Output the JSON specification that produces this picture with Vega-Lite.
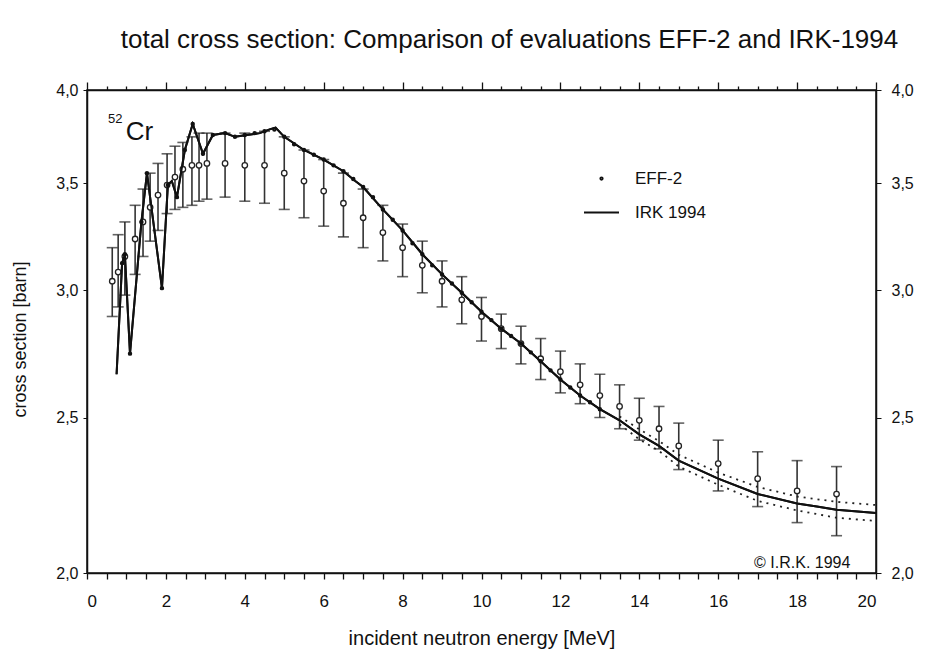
{
  "$schema": "https://vega.github.io/schema/vega-lite/v6.json",
  "autosize": {"type": "none"},
  "width": 789,
  "height": 483,
  "padding": {"left": 87, "top": 90, "right": 49, "bottom": 80},
  "background": "white",
  "config": {
    "font": "Liberation Sans",
    "view": {"stroke": "#111", "strokeWidth": 1.5},
    "axis": {"grid": false, "domainColor": "#111", "tickColor": "#111", "labelColor": "#111", "titleColor": "#111", "labelFont": "Liberation Sans", "titleFont": "Liberation Sans", "titleFontWeight": "normal"}
  },
  "title": {"text": "total cross section: Comparison of evaluations EFF-2 and IRK-1994", "font": "Liberation Sans", "fontSize": 26, "fontWeight": "normal", "color": "#111", "anchor": "middle", "offset": 28, "dx": 28},
  "datasets": {
    "irk": [
      {"E": 0.75, "sigma": 2.66}, {"E": 0.89, "sigma": 3.12}, {"E": 0.96, "sigma": 3.16}, {"E": 1.09, "sigma": 2.74},
      {"E": 1.38, "sigma": 3.31}, {"E": 1.52, "sigma": 3.55}, {"E": 1.90, "sigma": 3.01}, {"E": 2.05, "sigma": 3.49},
      {"E": 2.15, "sigma": 3.51}, {"E": 2.28, "sigma": 3.43}, {"E": 2.48, "sigma": 3.67}, {"E": 2.68, "sigma": 3.81},
      {"E": 2.94, "sigma": 3.65}, {"E": 3.19, "sigma": 3.75}, {"E": 3.5, "sigma": 3.76}, {"E": 3.75, "sigma": 3.74},
      {"E": 4.05, "sigma": 3.75}, {"E": 4.38, "sigma": 3.76}, {"E": 4.63, "sigma": 3.78}, {"E": 4.78, "sigma": 3.79},
      {"E": 5.0, "sigma": 3.74}, {"E": 5.5, "sigma": 3.67}, {"E": 6.0, "sigma": 3.62}, {"E": 6.5, "sigma": 3.56},
      {"E": 6.8, "sigma": 3.51}, {"E": 7.0, "sigma": 3.48}, {"E": 7.5, "sigma": 3.37}, {"E": 8.0, "sigma": 3.27},
      {"E": 8.5, "sigma": 3.16}, {"E": 9.0, "sigma": 3.07}, {"E": 9.5, "sigma": 2.99}, {"E": 10.0, "sigma": 2.91},
      {"E": 10.5, "sigma": 2.84}, {"E": 11.0, "sigma": 2.78}, {"E": 11.5, "sigma": 2.71}, {"E": 12.0, "sigma": 2.64},
      {"E": 12.5, "sigma": 2.58}, {"E": 13.0, "sigma": 2.53}, {"E": 13.5, "sigma": 2.49}, {"E": 14.0, "sigma": 2.44},
      {"E": 14.5, "sigma": 2.40}, {"E": 15.0, "sigma": 2.35}, {"E": 16.0, "sigma": 2.29}, {"E": 17.0, "sigma": 2.24},
      {"E": 18.0, "sigma": 2.21}, {"E": 18.5, "sigma": 2.20}, {"E": 19.0, "sigma": 2.19}, {"E": 20.0, "sigma": 2.18}
    ],
    "band": [
      {"E": 13.5, "upper": 2.504, "lower": 2.476}, {"E": 14.0, "upper": 2.458, "lower": 2.423},
      {"E": 14.5, "upper": 2.417, "lower": 2.383}, {"E": 15.0, "upper": 2.370, "lower": 2.330},
      {"E": 16.0, "upper": 2.310, "lower": 2.270}, {"E": 17.0, "upper": 2.263, "lower": 2.218},
      {"E": 18.0, "upper": 2.232, "lower": 2.188}, {"E": 19.0, "upper": 2.215, "lower": 2.165},
      {"E": 20.0, "upper": 2.205, "lower": 2.155}
    ],
    "eff2": [
      {"E": 0.89, "sigma": 3.12, "series": "EFF-2"}, {"E": 0.96, "sigma": 3.16, "series": "EFF-2"}, {"E": 1.09, "sigma": 2.74, "series": "EFF-2"},
      {"E": 1.38, "sigma": 3.31, "series": "EFF-2"}, {"E": 1.52, "sigma": 3.55, "series": "EFF-2"}, {"E": 1.90, "sigma": 3.01, "series": "EFF-2"},
      {"E": 2.05, "sigma": 3.49, "series": "EFF-2"}, {"E": 2.28, "sigma": 3.43, "series": "EFF-2"}, {"E": 2.48, "sigma": 3.67, "series": "EFF-2"},
      {"E": 2.68, "sigma": 3.81, "series": "EFF-2"}, {"E": 2.94, "sigma": 3.65, "series": "EFF-2"}, {"E": 3.19, "sigma": 3.75, "series": "EFF-2"},
      {"E": 3.5, "sigma": 3.76, "series": "EFF-2"}, {"E": 3.75, "sigma": 3.74, "series": "EFF-2"}, {"E": 4.0, "sigma": 3.75, "series": "EFF-2"},
      {"E": 4.25, "sigma": 3.76, "series": "EFF-2"}, {"E": 4.5, "sigma": 3.77, "series": "EFF-2"}, {"E": 4.75, "sigma": 3.78, "series": "EFF-2"},
      {"E": 5.0, "sigma": 3.74, "series": "EFF-2"}, {"E": 5.25, "sigma": 3.70, "series": "EFF-2"}, {"E": 5.5, "sigma": 3.67, "series": "EFF-2"},
      {"E": 5.75, "sigma": 3.645, "series": "EFF-2"}, {"E": 6.0, "sigma": 3.62, "series": "EFF-2"}, {"E": 6.25, "sigma": 3.59, "series": "EFF-2"},
      {"E": 6.5, "sigma": 3.56, "series": "EFF-2"}, {"E": 6.75, "sigma": 3.52, "series": "EFF-2"}, {"E": 7.0, "sigma": 3.48, "series": "EFF-2"},
      {"E": 7.25, "sigma": 3.43, "series": "EFF-2"}, {"E": 7.5, "sigma": 3.37, "series": "EFF-2"}, {"E": 7.75, "sigma": 3.32, "series": "EFF-2"},
      {"E": 8.0, "sigma": 3.27, "series": "EFF-2"}, {"E": 8.25, "sigma": 3.21, "series": "EFF-2"}, {"E": 8.5, "sigma": 3.16, "series": "EFF-2"},
      {"E": 8.75, "sigma": 3.11, "series": "EFF-2"}, {"E": 9.0, "sigma": 3.07, "series": "EFF-2"}, {"E": 9.25, "sigma": 3.03, "series": "EFF-2"},
      {"E": 9.5, "sigma": 2.99, "series": "EFF-2"}, {"E": 9.75, "sigma": 2.95, "series": "EFF-2"}, {"E": 10.0, "sigma": 2.91, "series": "EFF-2"},
      {"E": 10.25, "sigma": 2.875, "series": "EFF-2"}, {"E": 10.5, "sigma": 2.84, "series": "EFF-2"}, {"E": 10.75, "sigma": 2.81, "series": "EFF-2"},
      {"E": 11.0, "sigma": 2.78, "series": "EFF-2"}, {"E": 11.25, "sigma": 2.745, "series": "EFF-2"}, {"E": 11.5, "sigma": 2.71, "series": "EFF-2"},
      {"E": 11.75, "sigma": 2.675, "series": "EFF-2"}, {"E": 12.0, "sigma": 2.64, "series": "EFF-2"}, {"E": 12.25, "sigma": 2.61, "series": "EFF-2"},
      {"E": 12.5, "sigma": 2.58, "series": "EFF-2"}, {"E": 12.75, "sigma": 2.555, "series": "EFF-2"}, {"E": 13.0, "sigma": 2.53, "series": "EFF-2"}
    ],
    "bars": [
      {"E": 0.64, "v": 3.04, "lo": 2.89, "hi": 3.19}, {"E": 0.79, "v": 3.08, "lo": 2.93, "hi": 3.25},
      {"E": 0.96, "v": 3.15, "lo": 2.98, "hi": 3.31}, {"E": 1.22, "v": 3.23, "lo": 3.07, "hi": 3.39},
      {"E": 1.42, "v": 3.31, "lo": 3.15, "hi": 3.47}, {"E": 1.60, "v": 3.38, "lo": 3.22, "hi": 3.55},
      {"E": 1.80, "v": 3.44, "lo": 3.27, "hi": 3.60}, {"E": 2.03, "v": 3.49, "lo": 3.35, "hi": 3.65},
      {"E": 2.23, "v": 3.53, "lo": 3.37, "hi": 3.69}, {"E": 2.43, "v": 3.57, "lo": 3.38, "hi": 3.71},
      {"E": 2.66, "v": 3.59, "lo": 3.39, "hi": 3.74}, {"E": 2.84, "v": 3.59, "lo": 3.41, "hi": 3.76},
      {"E": 3.04, "v": 3.60, "lo": 3.42, "hi": 3.76}, {"E": 3.5, "v": 3.60, "lo": 3.43, "hi": 3.76},
      {"E": 4.0, "v": 3.59, "lo": 3.41, "hi": 3.76}, {"E": 4.5, "v": 3.59, "lo": 3.40, "hi": 3.77},
      {"E": 5.0, "v": 3.55, "lo": 3.37, "hi": 3.74}, {"E": 5.5, "v": 3.51, "lo": 3.33, "hi": 3.67},
      {"E": 6.0, "v": 3.46, "lo": 3.29, "hi": 3.62}, {"E": 6.5, "v": 3.40, "lo": 3.24, "hi": 3.55},
      {"E": 7.0, "v": 3.33, "lo": 3.19, "hi": 3.47}, {"E": 7.5, "v": 3.26, "lo": 3.13, "hi": 3.39},
      {"E": 8.0, "v": 3.19, "lo": 3.06, "hi": 3.30}, {"E": 8.5, "v": 3.11, "lo": 2.99, "hi": 3.22},
      {"E": 9.0, "v": 3.04, "lo": 2.93, "hi": 3.13}, {"E": 9.5, "v": 2.96, "lo": 2.86, "hi": 3.06},
      {"E": 10.0, "v": 2.89, "lo": 2.79, "hi": 2.97}, {"E": 10.5, "v": 2.84, "lo": 2.76, "hi": 2.90},
      {"E": 11.0, "v": 2.78, "lo": 2.70, "hi": 2.85}, {"E": 11.5, "v": 2.72, "lo": 2.64, "hi": 2.80},
      {"E": 12.0, "v": 2.67, "lo": 2.59, "hi": 2.75}, {"E": 12.5, "v": 2.62, "lo": 2.55, "hi": 2.70},
      {"E": 13.0, "v": 2.58, "lo": 2.50, "hi": 2.66}, {"E": 13.5, "v": 2.54, "lo": 2.46, "hi": 2.62},
      {"E": 14.0, "v": 2.49, "lo": 2.42, "hi": 2.57}, {"E": 14.5, "v": 2.46, "lo": 2.39, "hi": 2.54},
      {"E": 15.0, "v": 2.40, "lo": 2.32, "hi": 2.48}, {"E": 16.0, "v": 2.34, "lo": 2.25, "hi": 2.42},
      {"E": 17.0, "v": 2.29, "lo": 2.20, "hi": 2.38}, {"E": 18.0, "v": 2.25, "lo": 2.15, "hi": 2.35},
      {"E": 19.0, "v": 2.24, "lo": 2.11, "hi": 2.33}
    ]
  },
  "resolve": {"scale": {"x": "shared", "y": "shared"}, "axis": {"x": "independent", "y": "independent"}},
  "layer": [
    {
      "data": {"name": "irk"},
      "mark": {"type": "line", "color": "#111", "strokeWidth": 2},
      "encoding": {
        "x": {"field": "E", "type": "quantitative", "scale": {"domain": [0, 20], "nice": false, "zero": false},
          "axis": {"orient": "bottom", "title": "incident neutron energy [MeV]", "titleFontSize": 20, "titlePadding": 19,
            "values": [0,0.5,1,1.5,2,2.5,3,3.5,4,4.5,5,5.5,6,6.5,7,7.5,8,8.5,9,9.5,10,10.5,11,11.5,12,12.5,13,13.5,14,14.5,15,15.5,16,16.5,17,17.5,18,18.5,19,19.5,20],
            "labelExpr": "datum.value % 2 === 0 ? format(datum.value, 'd') : ''",
            "labelFontSize": 17, "labelPadding": 14, "tickSize": 6, "tickWidth": 1.3, "domain": true, "domainWidth": 1.5}},
        "y": {"field": "sigma", "type": "quantitative", "scale": {"type": "log", "domain": [2, 4], "nice": false, "zero": false},
          "axis": {"orient": "left", "title": "cross section [barn]", "titleFontSize": 18, "titlePadding": 26, "titleY": 249,
            "values": [2, 2.5, 3, 3.5, 4],
            "labelExpr": "replace(format(datum.value, '.1f'), '.', ',')",
            "labelFontSize": 16, "labelPadding": 5, "tickSize": 4, "domainWidth": 1.5}}
      }
    },
    {
      "data": {"name": "bars"},
      "mark": {"type": "rule", "color": "#333", "strokeWidth": 1.6},
      "encoding": {
        "x": {"field": "E", "type": "quantitative",
          "axis": {"orient": "top", "title": null, "labels": false,
            "values": [0,0.5,1,1.5,2,2.5,3,3.5,4,4.5,5,5.5,6,6.5,7,7.5,8,8.5,9,9.5,10,10.5,11,11.5,12,12.5,13,13.5,14,14.5,15,15.5,16,16.5,17,17.5,18,18.5,19,19.5,20],
            "tickSize": {"condition": {"test": "datum.value % 2 === 0", "value": 8}, "value": 4}, "tickWidth": 1.3, "domainWidth": 1.5}},
        "y": {"field": "lo", "type": "quantitative",
          "axis": {"orient": "right", "title": null, "values": [2, 2.5, 3, 3.5, 4],
            "labelExpr": "replace(format(datum.value, '.1f'), '.', ',')",
            "labelFontSize": 16, "labelPadding": 10, "tickSize": 5, "domainWidth": 1.5}},
        "y2": {"field": "hi"}
      }
    },
    {
      "data": {"name": "bars"},
      "mark": {"type": "tick", "orient": "horizontal", "color": "#222", "size": 11, "thickness": 1.6},
      "encoding": {
        "x": {"field": "E", "type": "quantitative", "axis": null},
        "y": {"field": "lo", "type": "quantitative", "axis": null}
      }
    },
    {
      "data": {"name": "bars"},
      "mark": {"type": "tick", "orient": "horizontal", "color": "#222", "size": 11, "thickness": 1.6},
      "encoding": {
        "x": {"field": "E", "type": "quantitative", "axis": null},
        "y": {"field": "hi", "type": "quantitative", "axis": null}
      }
    },
    {
      "data": {"name": "bars"},
      "mark": {"type": "point", "shape": "circle", "filled": true, "fill": "white", "stroke": "#222", "strokeWidth": 1.3, "size": 30, "opacity": 1},
      "encoding": {
        "x": {"field": "E", "type": "quantitative", "axis": null},
        "y": {"field": "v", "type": "quantitative", "axis": null}
      }
    },
    {
      "data": {"name": "band"},
      "mark": {"type": "line", "color": "#222", "strokeWidth": 1.8, "strokeDash": [2, 5]},
      "encoding": {
        "x": {"field": "E", "type": "quantitative", "axis": null},
        "y": {"field": "upper", "type": "quantitative", "axis": null}
      }
    },
    {
      "data": {"name": "band"},
      "mark": {"type": "line", "color": "#222", "strokeWidth": 1.8, "strokeDash": [2, 5]},
      "encoding": {
        "x": {"field": "E", "type": "quantitative", "axis": null},
        "y": {"field": "lower", "type": "quantitative", "axis": null}
      }
    },
    {
      "data": {"name": "irk"},
      "mark": {"type": "line", "color": "#111", "strokeWidth": 2},
      "encoding": {
        "x": {"field": "E", "type": "quantitative", "axis": null},
        "y": {"field": "sigma", "type": "quantitative", "axis": null}
      }
    },
    {
      "data": {"name": "eff2"},
      "mark": {"type": "point", "filled": false, "color": "#111", "strokeWidth": 2, "opacity": 1},
      "encoding": {
        "x": {"field": "E", "type": "quantitative", "axis": null},
        "y": {"field": "sigma", "type": "quantitative", "axis": null},
        "shape": {"field": "series", "type": "nominal",
          "scale": {"domain": ["EFF-2", "IRK 1994"], "range": ["circle", "stroke"]},
          "legend": {"orient": "none", "legendX": 496, "legendY": 80, "title": null,
            "labelFont": "Liberation Sans", "labelFontSize": 17, "labelColor": "#111", "labelOffset": 15,
            "rowPadding": 7, "symbolStrokeWidth": 1.8, "symbolStrokeColor": "#111"}},
        "size": {"field": "series", "type": "nominal",
          "scale": {"domain": ["EFF-2", "IRK 1994"], "range": [6, 1225]},
          "legend": {"orient": "none", "legendX": 496, "legendY": 80, "title": null,
            "labelFont": "Liberation Sans", "labelFontSize": 17, "labelColor": "#111", "labelOffset": 15,
            "rowPadding": 7, "symbolStrokeWidth": 1.8, "symbolStrokeColor": "#111"}}
      }
    },
    {
      "data": {"values": [{}]},
      "mark": {"type": "text", "text": "52", "fontSize": 13, "align": "left", "baseline": "alphabetic", "color": "#111"},
      "encoding": {"x": {"datum": 0.53, "type": "quantitative", "axis": null}, "y": {"datum": 3.815, "type": "quantitative", "axis": null}}
    },
    {
      "data": {"values": [{}]},
      "mark": {"type": "text", "text": "Cr", "fontSize": 26, "align": "left", "baseline": "alphabetic", "color": "#111"},
      "encoding": {"x": {"datum": 0.98, "type": "quantitative", "axis": null}, "y": {"datum": 3.725, "type": "quantitative", "axis": null}}
    },
    {
      "data": {"values": [{}]},
      "mark": {"type": "text", "text": "© I.R.K. 1994", "fontSize": 16, "align": "center", "baseline": "middle", "color": "#111"},
      "encoding": {"x": {"datum": 18.13, "type": "quantitative", "axis": null}, "y": {"datum": 2.03, "type": "quantitative", "axis": null}}
    }
  ]
}
